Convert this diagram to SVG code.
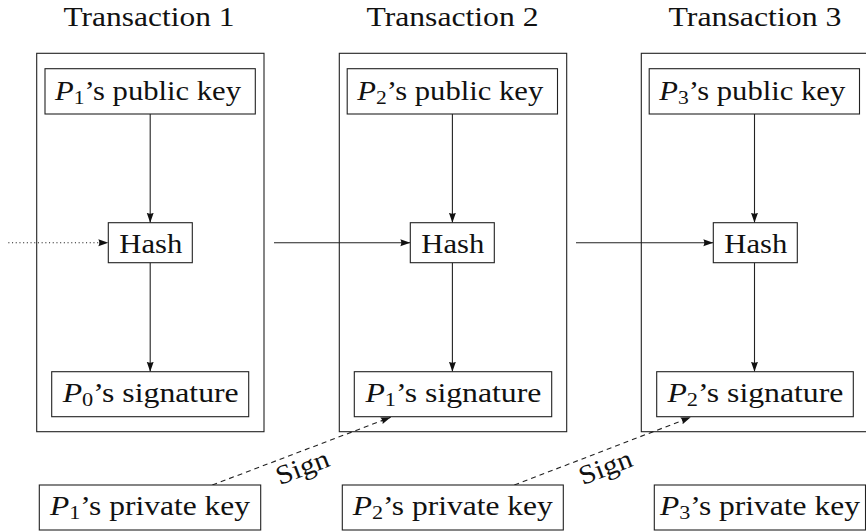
<svg xmlns="http://www.w3.org/2000/svg" width="866" height="531" viewBox="0 0 866 531">
  <style>
    .frame { fill: none; stroke: #222; stroke-width: 1.1; }
    .box { fill: #fff; stroke: #222; stroke-width: 1.1; }
    text { font-family: 'Liberation Serif', 'DejaVu Serif', 'Times New Roman', serif; font-size: 27px; fill: #111; text-anchor: middle; }
    .it { font-style: italic; }
    .sub { font-size: 19px; }
    .edge { fill: none; stroke: #222; stroke-width: 1.1; }
    .dash { stroke-dasharray: 5 4; }
    .dot { stroke-dasharray: 1.1 2.6; }
  </style>
  <defs>
    <marker id="head" markerUnits="userSpaceOnUse" markerWidth="11" markerHeight="8" refX="10" refY="3.5" orient="auto">
      <path d="M0,0 L10,3.5 L0,7 Q2,3.5 0,0 Z" fill="#111"/>
    </marker>
  </defs>

  <rect width="866" height="531" fill="#fff"/>

  <!-- transaction frames with titles -->
  <g id="tx1">
    <rect class="frame" x="36.7" y="53.3" width="227.3" height="378.4"/>
    <text x="149" y="26" textLength="171" lengthAdjust="spacingAndGlyphs">Transaction 1</text>
  </g>
  <g id="tx2">
    <rect class="frame" x="339.3" y="53.3" width="227.4" height="378.4"/>
    <text x="452.5" y="26" textLength="172" lengthAdjust="spacingAndGlyphs">Transaction 2</text>
  </g>
  <g id="tx3">
    <rect class="frame" x="641.3" y="53.3" width="240" height="378.4"/>
    <text x="755" y="26" textLength="173" lengthAdjust="spacingAndGlyphs">Transaction 3</text>
  </g>

  <!-- connectors -->
  <g id="connectors">
    <!-- inside transaction 1 -->
    <line class="edge" x1="150.2" y1="114" x2="150.2" y2="222.7" marker-end="url(#head)"/>
    <line class="edge" x1="150.2" y1="262.7" x2="150.2" y2="371.7" marker-end="url(#head)"/>
    <!-- inside transaction 2 -->
    <line class="edge" x1="452.4" y1="114" x2="452.4" y2="222.7" marker-end="url(#head)"/>
    <line class="edge" x1="452.4" y1="262.7" x2="452.4" y2="371.7" marker-end="url(#head)"/>
    <!-- inside transaction 3 -->
    <line class="edge" x1="754.5" y1="114" x2="754.5" y2="222.7" marker-end="url(#head)"/>
    <line class="edge" x1="754.5" y1="262.7" x2="754.5" y2="371.7" marker-end="url(#head)"/>
    <!-- hash chain -->
    <line class="edge dot" x1="8.3" y1="242.7" x2="108.3" y2="242.7" marker-end="url(#head)"/>
    <line class="edge" x1="274" y1="242.7" x2="410.3" y2="242.7" marker-end="url(#head)"/>
    <line class="edge" x1="576" y1="242.7" x2="713.3" y2="242.7" marker-end="url(#head)"/>
    <!-- signing -->
    <line class="edge dash" x1="212.3" y1="485" x2="390.7" y2="417.3" marker-end="url(#head)"/>
    <line class="edge dash" x1="514.3" y1="485" x2="690.7" y2="417.3" marker-end="url(#head)"/>
    <text transform="translate(297,453) rotate(-20.8)" x="0" y="24" textLength="55" lengthAdjust="spacingAndGlyphs">Sign</text>
    <text transform="translate(600,453) rotate(-20.8)" x="0" y="24" textLength="55" lengthAdjust="spacingAndGlyphs">Sign</text>
  </g>

  <!-- public keys -->
  <g id="pub1">
    <rect class="box" x="45" y="68.7" width="210.3" height="45.3"/>
    <text x="148" y="100" textLength="186" lengthAdjust="spacingAndGlyphs"><tspan class="it">P</tspan><tspan class="sub" dy="4">1</tspan><tspan dy="-4">’s public key</tspan></text>
  </g>
  <g id="pub2">
    <rect class="box" x="347.2" y="68.7" width="210.3" height="45.3"/>
    <text x="450.2" y="100" textLength="186" lengthAdjust="spacingAndGlyphs"><tspan class="it">P</tspan><tspan class="sub" dy="4">2</tspan><tspan dy="-4">’s public key</tspan></text>
  </g>
  <g id="pub3">
    <rect class="box" x="649.2" y="68.7" width="210.3" height="45.3"/>
    <text x="752.2" y="100" textLength="186" lengthAdjust="spacingAndGlyphs"><tspan class="it">P</tspan><tspan class="sub" dy="4">3</tspan><tspan dy="-4">’s public key</tspan></text>
  </g>

  <!-- hashes -->
  <g id="hash1">
    <rect class="box" x="108.3" y="222.7" width="84" height="40"/>
    <text x="150.8" y="253" textLength="63" lengthAdjust="spacingAndGlyphs">Hash</text>
  </g>
  <g id="hash2">
    <rect class="box" x="410.3" y="222.7" width="84" height="40"/>
    <text x="452.8" y="253" textLength="63" lengthAdjust="spacingAndGlyphs">Hash</text>
  </g>
  <g id="hash3">
    <rect class="box" x="713.3" y="222.7" width="84" height="40"/>
    <text x="755.8" y="253" textLength="63" lengthAdjust="spacingAndGlyphs">Hash</text>
  </g>

  <!-- signatures -->
  <g id="sig1">
    <rect class="box" x="51.7" y="371.7" width="197" height="45"/>
    <text x="150.7" y="401.7" textLength="176" lengthAdjust="spacingAndGlyphs"><tspan class="it">P</tspan><tspan class="sub" dy="4">0</tspan><tspan dy="-4">’s signature</tspan></text>
  </g>
  <g id="sig2">
    <rect class="box" x="354.3" y="371.7" width="197.4" height="45"/>
    <text x="453.4" y="401.7" textLength="176" lengthAdjust="spacingAndGlyphs"><tspan class="it">P</tspan><tspan class="sub" dy="4">1</tspan><tspan dy="-4">’s signature</tspan></text>
  </g>
  <g id="sig3">
    <rect class="box" x="656.7" y="371.7" width="196.6" height="45"/>
    <text x="755.4" y="401.7" textLength="176" lengthAdjust="spacingAndGlyphs"><tspan class="it">P</tspan><tspan class="sub" dy="4">2</tspan><tspan dy="-4">’s signature</tspan></text>
  </g>

  <!-- private keys -->
  <g id="priv1">
    <rect class="box" x="39.3" y="485" width="221.4" height="45"/>
    <text x="150" y="515" textLength="200" lengthAdjust="spacingAndGlyphs"><tspan class="it">P</tspan><tspan class="sub" dy="4">1</tspan><tspan dy="-4">’s private key</tspan></text>
  </g>
  <g id="priv2">
    <rect class="box" x="342.3" y="485" width="221" height="45"/>
    <text x="452.8" y="515" textLength="200" lengthAdjust="spacingAndGlyphs"><tspan class="it">P</tspan><tspan class="sub" dy="4">2</tspan><tspan dy="-4">’s private key</tspan></text>
  </g>
  <g id="priv3">
    <rect class="box" x="654.3" y="485" width="211.2" height="45"/>
    <text x="759.9" y="515" textLength="200" lengthAdjust="spacingAndGlyphs"><tspan class="it">P</tspan><tspan class="sub" dy="4">3</tspan><tspan dy="-4">’s private key</tspan></text>
  </g>
</svg>
